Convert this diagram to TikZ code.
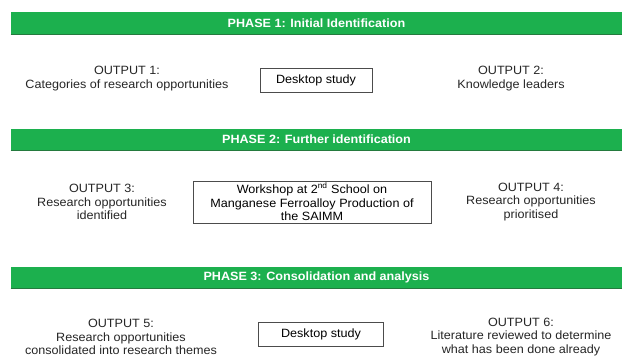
\documentclass[tikz,border=0pt]{standalone}
\usepackage{fontspec}
\setmainfont{Liberation Sans}[FakeStretch=1.05]
\usepackage{tikz}
\usetikzlibrary{positioning}
\definecolor{phasegreen}{RGB}{28,176,78}
\definecolor{phaseshade}{RGB}{36,122,62}
\tikzset{every picture/.style={line width=0.75pt}}

\begin{document}
\begin{tikzpicture}[x=1pt,y=-1pt,align=center,font=\fontsize{12}{13.8}\selectfont,
        phase/.style={fill=phasegreen, text=white, inner sep=0pt,
            font=\fontsize{12}{14}\selectfont\bfseries,
            minimum width=611pt, minimum height=22pt},
        task/.style={draw=black!70, line width=0.9pt, inner sep=0pt},
        output/.style={inner sep=0pt, text=black!85}]
        \useasboundingbox[fill=white] (0,0) rectangle (622,359);

        % phase 1
        \node[phase] (p1) at (316.5,23) {PHASE 1: Initial Identification};
        \node[output] (o1) at (127,78.5) {OUTPUT 1:\\Categories of research opportunities};
        \node[task,minimum width=112pt,minimum height=24pt] (d1) at (316,80) {Desktop study};
        \node[output] (o2) at (511,78.5) {OUTPUT 2:\\Knowledge leaders};

        % phase 2
        \node[phase] (p2) at (316.5,139.5) {PHASE 2: Further identification};
        \node[output] (o3) at (102,202) {OUTPUT 3:\\Research opportunities\\identified};
        \node[task,minimum width=238pt,minimum height=42pt] (w2) at (312,202)
            {Workshop at 2\textsuperscript{nd} School on\\Manganese Ferroalloy Production of\\the SAIMM};
        \node[output] (o4) at (531,202) {OUTPUT 4:\\Research opportunities\\prioritised};

        % phase 3
        \node[phase] (p3) at (316.5,277.5) {PHASE 3: Consolidation and analysis};
        \node[output] (o5) at (121,337) {OUTPUT 5:\\Research opportunities\\consolidated into research themes};
        \node[task,minimum width=125pt,minimum height=24pt] (d3) at (321,334) {Desktop study};
        \node[output] (o6) at (521,337) {OUTPUT 6:\\Literature reviewed to determine\\what has been done already};

        % shading under the bars
        \draw[phaseshade,line width=1.2pt]
            (p1.south west) -- (p1.south east)
            (p2.south west) -- (p2.south east)
            (p3.south west) -- (p3.south east);
\end{tikzpicture}
\end{document}
